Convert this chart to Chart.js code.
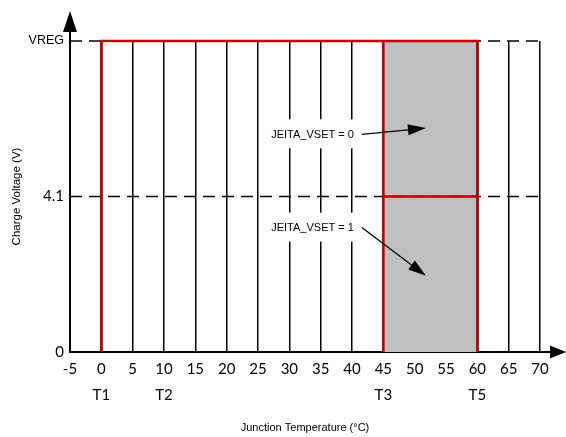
<!DOCTYPE html>
<html>
<head>
<meta charset="utf-8">
<script src="https://cdn.jsdelivr.net/npm/chart.js@4/dist/chart.umd.min.js"></script>
<style>
  html, body { margin: 0; padding: 0; background: #fff; }
  canvas { display: block; }
</style>
</head>
<body>
<canvas id="c" width="566" height="437"></canvas>
<script>
// Junction temperature axis (°C)
const tempMin = -5, tempMax = 70, tempStep = 5;
// Threshold temperatures and their names
const thresholdTemps = [0, 10, 45, 60];
const thresholdNames = ['T1', 'T2', 'T3', 'T5'];
// Charge voltage levels, bottom to top
const voltageLevels = ['0', '4.1', 'VREG'];

// Charging window outline: T1 up to VREG, across to T5, back down
const windowTemps = [0, 0, 60, 60];
const windowVolts = ['0', 'VREG', 'VREG', '0'];
// T3 boundary
const t3Temps = [45, 45];
const t3Volts = ['0', 'VREG'];
// 4.1 V step between T3 and T5
const stepTemps = [45, 60];
const stepVolts = ['4.1', '4.1'];
// Shaded JEITA region between T3 and T5
const shadeTemps = [45, 60];
const shadeVolts = ['VREG', 'VREG'];
// Dashed reference levels spanning the whole axis
const refTemps = [tempMin, tempMax];
const refLevels = ['VREG', '4.1'];

// Callouts: text, anchor (temperature, level index) and arrow tip
const calloutTexts = ['JEITA_VSET = 0', 'JEITA_VSET = 1'];
const calloutAnchors = [[33.7, 1.4], [33.7, 0.8]];
const calloutTips = [[51.8, 1.44], [51.8, 0.49]];

const RED = '#C00000';
const pts = (xs, ys) => xs.map((x, i) => ({ x, y: ys[i] }));

function arrowHead(ctx, fx, fy, tx, ty, len, half) {
  const ang = Math.atan2(ty - fy, tx - fx);
  const bx = tx - len * Math.cos(ang), by = ty - len * Math.sin(ang);
  const nx = -Math.sin(ang) * half, ny = Math.cos(ang) * half;
  ctx.beginPath();
  ctx.moveTo(tx, ty);
  ctx.lineTo(bx + nx, by + ny);
  ctx.lineTo(bx - nx, by - ny);
  ctx.closePath();
  ctx.fill();
  return [bx, by];
}

// Axis arrows and callout labels
const decor = {
  id: 'decor',
  afterDatasetsDraw(chart) {
    const { ctx, chartArea: a, scales: { x, y } } = chart;
    ctx.save();
    ctx.strokeStyle = '#000';
    ctx.fillStyle = '#000';
    ctx.lineWidth = 2;

    // vertical axis extension
    const yTip = a.top - 30;
    ctx.beginPath();
    ctx.moveTo(a.left, a.top);
    ctx.lineTo(a.left, yTip + 20);
    ctx.stroke();
    arrowHead(ctx, a.left, a.top, a.left, yTip, 21, 7);

    // horizontal axis extension
    const xTip = a.right + 26;
    ctx.beginPath();
    ctx.moveTo(a.right, a.bottom);
    ctx.lineTo(xTip - 15, a.bottom);
    ctx.stroke();
    arrowHead(ctx, a.right, a.bottom, xTip, a.bottom, 16, 6.5);

    // callouts
    ctx.font = '11px "Liberation Sans", Arial, sans-serif';
    ctx.textAlign = 'center';
    ctx.textBaseline = 'middle';
    calloutTexts.forEach((t, i) => {
      const cx = x.getPixelForValue(calloutAnchors[i][0]);
      const cy = y.getPixelForValue(calloutAnchors[i][1]);
      const w = ctx.measureText(t).width;
      ctx.fillStyle = '#fff';
      ctx.fillRect(cx - w / 2 - 8, cy - 15, w + 16, 29);
      ctx.fillStyle = '#000';
      ctx.fillText(t, cx, cy + 0.5);

      const sx = cx + w / 2 + 8, sy = cy;
      const tx = x.getPixelForValue(calloutTips[i][0]);
      const ty = y.getPixelForValue(calloutTips[i][1]);
      const [bx, by] = arrowHead(ctx, sx, sy, tx, ty, 18, 5.5);
      ctx.lineWidth = 1.3;
      ctx.beginPath();
      ctx.moveTo(sx, sy);
      ctx.lineTo(bx, by);
      ctx.stroke();
    });
    ctx.restore();
  }
};

const redLine = (data, order) => ({
  data, order, borderColor: RED, borderWidth: 2.6, pointRadius: 0,
  fill: false, clip: false, tension: 0
});
const dashLine = (level) => ({
  data: pts(refTemps, [level, level]), order: 5, borderColor: '#000',
  borderWidth: 1.5, borderDash: [12, 7], pointRadius: 0, fill: false, clip: false
});

new Chart(document.getElementById('c'), {
  type: 'line',
  data: {
    datasets: [
      redLine(pts(windowTemps, windowVolts), 1),
      redLine(pts(t3Temps, t3Volts), 1),
      redLine(pts(stepTemps, stepVolts), 1),
      ...refLevels.map(dashLine),
      {
        data: pts(shadeTemps, shadeVolts), order: 10, borderWidth: 0,
        borderColor: 'rgba(0,0,0,0)', backgroundColor: '#BFBFBF',
        fill: 'start', pointRadius: 0, clip: false
      }
    ]
  },
  options: {
    responsive: false,
    animation: false,
    events: [],
    layout: { padding: { top: 41, right: 26, left: 0, bottom: 0 } },
    plugins: { legend: { display: false }, tooltip: { enabled: false } },
    scales: {
      x: {
        type: 'linear',
        min: tempMin, max: tempMax,
        afterFit(scale) { scale.height = 85; },
        grid: { color: '#000', lineWidth: 1.5, drawTicks: false },
        border: { color: '#000', width: 2 },
        ticks: {
          stepSize: tempStep, autoSkip: false, maxRotation: 0, padding: 4,
          color: '#000',
          font: { family: 'Lato, "Open Sans", sans-serif', size: 15, lineHeight: 1.74 },
          callback(v) {
            const k = thresholdTemps.indexOf(v);
            return k >= 0 ? [String(v), thresholdNames[k]] : String(v);
          }
        },
        title: {
          display: true, text: 'Junction Temperature (°C)', color: '#000',
          font: { family: '"Liberation Sans", Arial, sans-serif', size: 11 },
          padding: { top: 0, bottom: 2 }
        }
      },
      y: {
        type: 'category',
        labels: voltageLevels,
        reverse: true,
        afterFit(scale) { scale.width = 70; },
        grid: { drawOnChartArea: false, drawTicks: false },
        border: { color: '#000', width: 2 },
        ticks: {
          padding: 6, color: '#000',
          font(c) {
            return voltageLevels[c.tick && c.tick.value] === 'VREG'
              ? { family: '"Liberation Sans Narrow", "Liberation Sans", Arial, sans-serif', size: 12.5 }
              : { family: 'Lato, "Open Sans", sans-serif', size: 15 };
          }
        },
        title: {
          display: true, text: 'Charge Voltage (V)', color: '#000',
          font: { family: '"Liberation Sans", Arial, sans-serif', size: 11.5 },
          padding: { top: 10, bottom: 0 }
        }
      }
    }
  },
  plugins: [decor]
});
</script>
</body>
</html>
